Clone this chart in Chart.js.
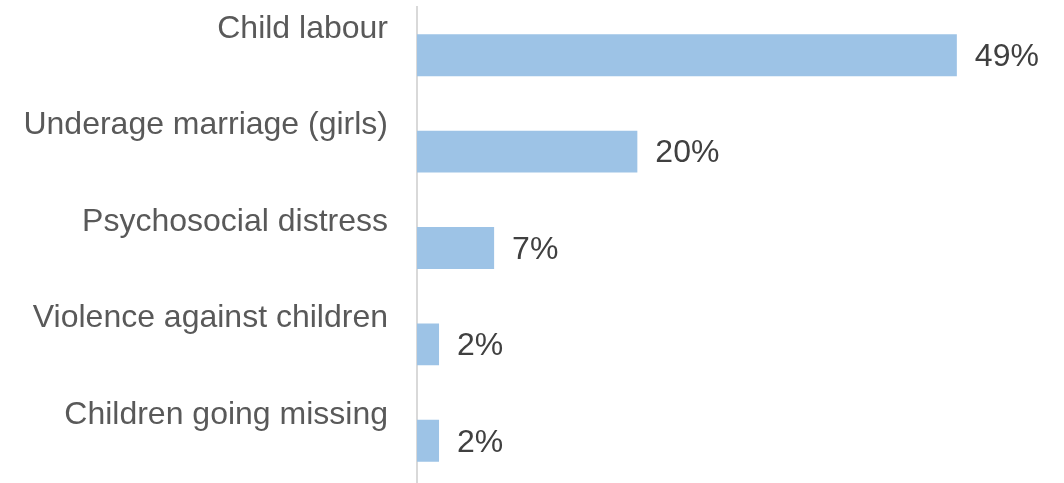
<!DOCTYPE html>
<html>
<head>
<meta charset="utf-8">
<script src="https://cdn.jsdelivr.net/npm/chart.js@4/dist/chart.umd.min.js"></script>
<style>
  html, body { margin:0; padding:0; background:#fff; overflow:hidden; }
  #wrap { position:relative; width:1064px; height:490px; }
</style>
</head>
<body>
<div id="wrap"><canvas id="myChart" width="1064" height="490"></canvas></div>
<script>
// dados
const categorias = [
  'Child labour',
  'Underage marriage (girls)',
  'Psychosocial distress',
  'Violence against children',
  'Children going missing'
];
const valores = [49, 20, 7, 2, 2];

const FONTE = '"Liberation Sans", Arial, sans-serif';

// rótulos de valor na ponta das barras
const rotulosValor = {
  id: 'rotulosValor',
  afterDatasetsDraw(chart){
    const ctx = chart.ctx;
    const meta = chart.getDatasetMeta(0);
    ctx.save();
    ctx.font = '32px ' + FONTE;
    ctx.fillStyle = '#404040';
    ctx.textAlign = 'left';
    ctx.textBaseline = 'middle';
    meta.data.forEach((bar, i) => {
      ctx.fillText(valores[i] + '%', bar.x + 18, bar.y + 2);
    });
    ctx.restore();
  }
};

new Chart(document.getElementById('myChart').getContext('2d'), {
  type: 'bar',
  data: {
    labels: categorias,
    datasets: [{
      data: valores,
      backgroundColor: '#9dc3e6',
      borderWidth: 0,
      barPercentage: 0.435,
      categoryPercentage: 1
    }]
  },
  options: {
    indexAxis: 'y',
    responsive: false,
    animation: false,
    layout: { padding: { top: 7, right: 8, bottom: 1, left: 0 } },
    plugins: {
      legend: { display: false },
      tooltip: { enabled: false }
    },
    scales: {
      x: {
        display: false,
        min: 0,
        max: 58
      },
      y: {
        afterFit(scale){
          scale.width = 417;
          scale.paddingTop = 0;
          scale.paddingBottom = 0;
        },
        grid: { display: false, drawTicks: false },
        border: { display: true, color: '#d9d9d9', width: 2 },
        ticks: {
          color: '#595959',
          font: { family: FONTE, size: 32 },
          padding: 29,
          labelOffset: -26
        }
      }
    }
  },
  plugins: [rotulosValor]
});
</script>
</body>
</html>
